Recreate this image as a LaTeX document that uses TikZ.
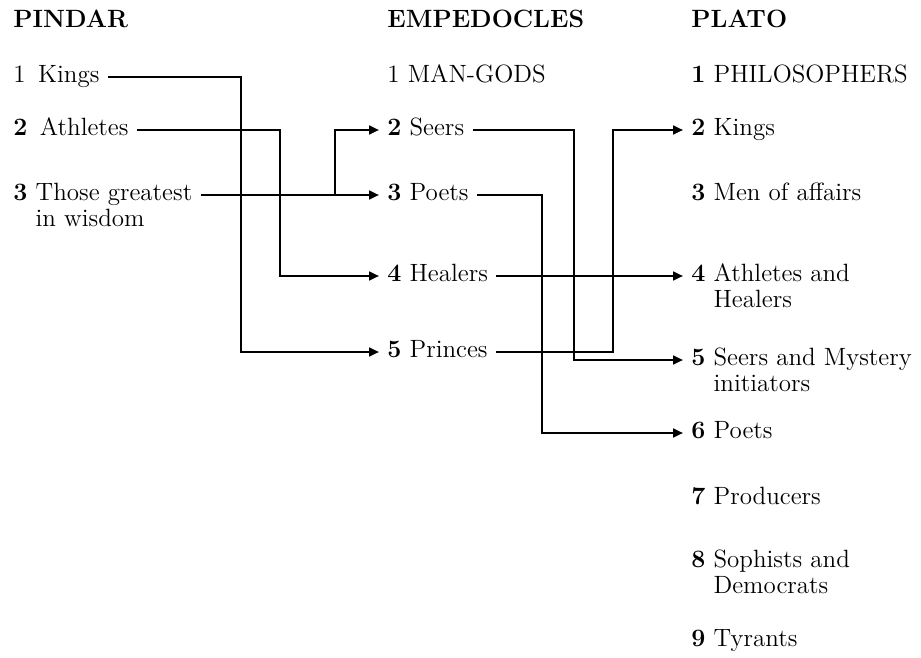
\documentclass[tikz,border=0pt]{standalone}
\usepackage{tikz}
\usetikzlibrary{arrows.meta}
\tikzset{Entry/.style={%
    anchor=west,%
    inner xsep=4pt,%
    inner ysep=0pt,%
    text height=9.4pt,%
    text depth=4.2pt,%
    font=\fontsize{12.5}{13}\selectfont,%
}}
\tikzset{Heading/.style={%
    Entry,%
    font=\fontsize{12.5}{13}\selectfont\bfseries,%
}}
\tikzset{Link/.style={%
    -{Triangle[length=5pt,width=4.4pt]},%
    line width=1.1pt,%
}}
\NewDocumentCommand{\twoLines}{m m m}{%
    \begin{tabular}[t]{@{}l@{}}\textbf{#1} #2\\\phantom{\textbf{#1} }#3\end{tabular}%
}

\begin{document}
\begin{tikzpicture}[x=0.5pt, y=-0.5pt]
    \useasboundingbox (0,0) rectangle (921,658);

    \node[Heading] (pinHead) at (5,22) {PINDAR};
    \node[Entry] (pin1) at (5,77) {1\enspace Kings};
    \node[Entry] (pin2) at (5,130) {\textbf{2}\enspace Athletes};
    \node[Entry] (pin3) at (5,195) {\twoLines{3}{Those greatest}{in wisdom}};

    \node[Heading] (empHead) at (379,22) {EMPEDOCLES};
    \node[Entry] (emp1) at (379,77) {1 MAN-GODS};
    \node[Entry] (emp2) at (379,130) {\textbf{2} Seers};
    \node[Entry] (emp3) at (379,195) {\textbf{3} Poets};
    \node[Entry] (emp4) at (379,276) {\textbf{4} Healers};
    \node[Entry] (emp5) at (379,352) {\textbf{5} Princes};

    \node[Heading] (plaHead) at (683,22) {PLATO};
    \node[Entry] (pla1) at (683,77) {\textbf{1} PHILOSOPHERS};
    \node[Entry] (pla2) at (683,130) {\textbf{2} Kings};
    \node[Entry] (pla3) at (683,195) {\textbf{3} Men of affairs};
    \node[Entry] (pla4) at (683,276) {\twoLines{4}{Athletes and}{Healers}};
    \node[Entry] (pla5) at (683,360) {\twoLines{5}{Seers and Mystery}{initiators}};
    \node[Entry] (pla6) at (683,433) {\textbf{6} Poets};
    \node[Entry] (pla7) at (683,499) {\textbf{7} Producers};
    \node[Entry] (pla8) at (683,562) {\twoLines{8}{Sophists and}{Democrats}};
    \node[Entry] (pla9) at (683,641) {\textbf{9} Tyrants};

    \coordinate (laneKings) at (241,0);
    \coordinate (laneAthletes) at (280,0);
    \coordinate (laneWisdom) at (335,0);
    \coordinate (lanePoets) at (542,0);
    \coordinate (laneSeers) at (574,0);
    \coordinate (lanePrinces) at (613,0);

    \draw[Link] (pin1.east) -| (laneKings |- emp5.west) -- (emp5.west);
    \draw[Link] (pin2.east) -| (laneAthletes |- emp4.west) -- (emp4.west);
    \draw[Link] (pin3.east) -- (emp3.west);
    \draw[Link] (laneWisdom |- pin3.east) |- (emp2.west);

    \draw[Link] (emp2.east) -| (laneSeers |- pla5.west) -- (pla5.west);
    \draw[Link] (emp3.east) -| (lanePoets |- pla6.west) -- (pla6.west);
    \draw[Link] (emp4.east) -- (pla4.west);
    \draw[Link] (emp5.east) -| (lanePrinces |- pla2.west) -- (pla2.west);
\end{tikzpicture}
\end{document}
